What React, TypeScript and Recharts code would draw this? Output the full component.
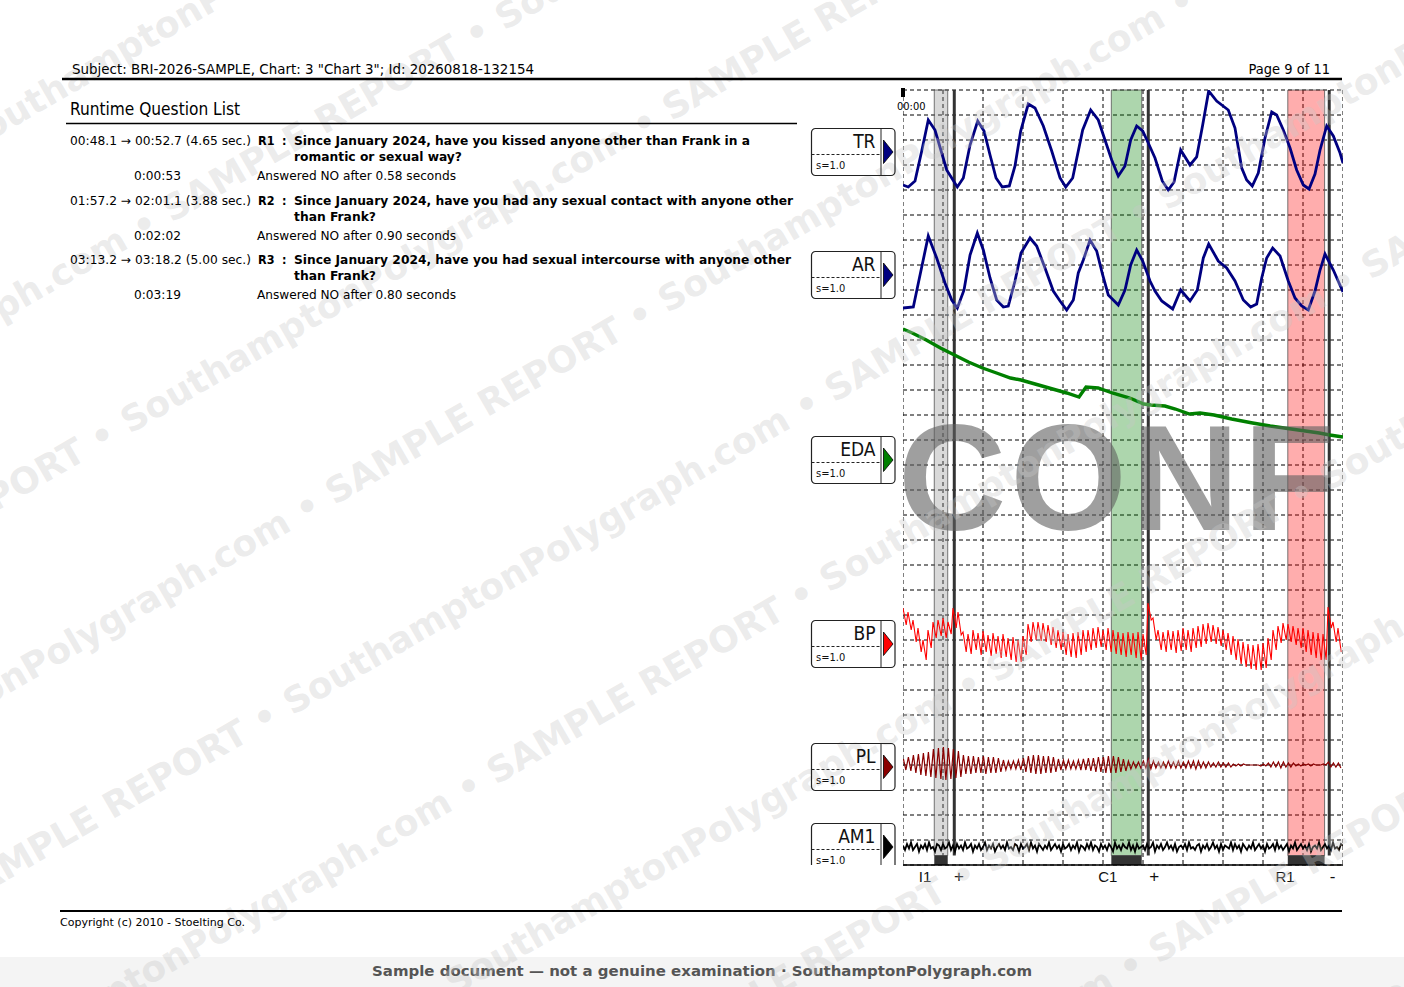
import React from 'react';
import { LineChart, Line, XAxis, YAxis, CartesianGrid, ReferenceArea, ReferenceLine } from 'recharts';

const FONT = '"DejaVu Sans Condensed", "DejaVu Sans", Verdana, sans-serif';
const ARIAL = '"Liberation Sans", Arial, sans-serif';

// ---------- page texts ----------
const HEADER_LEFT = 'Subject: BRI-2026-SAMPLE, Chart: 3 "Chart 3"; Id: 20260818-132154';
const HEADER_RIGHT = 'Page 9 of 11';
const LIST_TITLE = 'Runtime Question List';
const Q_TIME_TEXT = ['00:48.1 \u2192 00:52.7 (4.65 sec.)', '01:57.2 \u2192 02:01.1 (3.88 sec.)', '03:13.2 \u2192 03:18.2 (5.00 sec.)'];
const Q_ID = ['R1', 'R2', 'R3'];
const Q_TEXT_1 = [
  'Since January 2024, have you kissed anyone other than Frank in a',
  'Since January 2024, have you had any sexual contact with anyone other',
  'Since January 2024, have you had sexual intercourse with anyone other',
];
const Q_TEXT_2 = ['romantic or sexual way?', 'than Frank?', 'than Frank?'];
const Q_CLOCK = ['0:00:53', '0:02:02', '0:03:19'];
const Q_ANSWER = ['Answered NO after 0.58 seconds', 'Answered NO after 0.90 seconds', 'Answered NO after 0.80 seconds'];
const COPYRIGHT = 'Copyright (c) 2010 - Stoelting Co.';
const BANNER = 'Sample document \u2014 not a genuine examination \u00B7 SouthamptonPolygraph.com';
const WATERMARK = 'SAMPLE REPORT \u2022 SouthamptonPolygraph.com \u2022\u00A0';
const STAMP = 'CONFIDENTIAL';
const START_LABEL = '00:00';

// ---------- channels ----------
const CH_NAMES = ['TR', 'AR', 'EDA', 'BP', 'PL', 'AM1'];
const CH_SCALE = ['s=1.0', 's=1.0', 's=1.0', 's=1.0', 's=1.0', 's=1.0'];
const CH_COLORS = ['#000080', '#000080', '#008000', '#ff0000', '#8b0000', '#000000'];

// TR (time s, value)
const TR_T = [0, 0.66, 1.5, 2.34, 3.16, 4.0, 4.84, 5.46, 6.09, 6.79, 7.54, 8.38, 9.34, 10.13, 10.88, 11.63, 12.41, 13.29, 14.0, 14.71, 15.66, 16.5, 17.54, 18.59, 19.63, 20.34, 21.21, 22.46, 23.46, 24.41, 25.25, 26.09, 26.91, 27.75, 28.46, 29.21, 29.96, 30.66, 31.5, 32.41, 33.16, 33.88, 34.71, 35.88, 36.71, 37.46, 38.21, 39.21, 40.66, 41.5, 42.34, 42.96, 43.66, 44.41, 45.25, 46.09, 46.71, 47.54, 48.38, 49.21, 50.04, 50.75, 51.5, 52.13, 52.96, 53.79, 54.63, 55];
const TR_V = [5, 3, 9, 39, 70, 60, 37, 20, 12, 3, 12, 45, 69, 59, 35, 12, 3, 4, 24, 59, 86, 82, 64, 39, 12, 3, 12, 60, 80, 70, 50, 30, 14, 24, 50, 64, 59, 47, 32, 9, 0, 8, 40, 25, 33, 65, 99, 89, 80, 62, 22, 10, 4, 17, 52, 78, 75, 60, 42, 20, 5, 1, 16, 40, 64, 54, 37, 27];

// AR
const AR_T = [0, 1.29, 2.13, 3.16, 4.21, 5.25, 6.09, 6.79, 7.63, 8.38, 9.29, 10.04, 10.88, 11.71, 12.54, 13.16, 14.0, 14.75, 15.88, 16.71, 17.75, 18.79, 19.63, 20.46, 21.29, 21.91, 22.54, 23.38, 24.21, 24.96, 25.66, 26.91, 27.75, 28.46, 29.21, 29.96, 30.88, 31.5, 32.34, 33.71, 34.71, 35.88, 36.79, 37.54, 38.21, 39.41, 40.46, 41.5, 42.54, 43.46, 44.21, 44.84, 45.46, 46.21, 47.13, 48.16, 49.0, 49.84, 50.66, 51.5, 52.13, 52.75, 53.79, 55];
const AR_V = [7, 8, 40, 79, 57, 32, 15, 7, 25, 60, 82, 65, 37, 15, 8, 9, 34, 62, 77, 69, 47, 24, 14, 5, 15, 42, 55, 75, 64, 40, 20, 10, 25, 50, 65, 54, 34, 24, 14, 6, 25, 14, 25, 57, 71, 54, 47, 34, 15, 8, 11, 37, 57, 67, 59, 34, 17, 9, 5, 24, 45, 61, 45, 23];

// EDA
const EDA_T = [0, 1.16, 2.91, 4.68, 6.43, 8.18, 9.94, 11.69, 13.44, 14.75, 16.95, 18.7, 20.46, 22.0, 22.88, 24.4, 26.16, 28.35, 30.11, 30.99, 32.74, 34.05, 35.81, 37.13, 38.88, 41.08, 43.7, 45.9, 48.53, 50.29, 52.04, 53.35, 55];
const EDA_V = [111, 107, 100, 92, 85, 78, 72, 67, 62, 60, 55, 51, 47, 43, 53, 52, 47, 42, 36, 35, 34, 31, 26, 27, 25, 21, 17, 14, 11, 9, 7, 5, 3];

// BP per beat (systolic peak / diastolic trough)
const BEAT = 0.625;
const BP_SYS = [32, 28, 20, 12, 0, 10, 18, 20, 22, 18, 32, 28, 8, 6, 10, 7, 9, 5, 7, 4, 6, 2, 3, 0, 4, 16, 18, 18, 17, 15, 13, 10, 8, 6, 7, 8, 10, 10, 12, 13, 10, 12, 10, 8, 7, 8, 7, 8, 6, 37, 22, 10, 8, 10, 9, 10, 12, 10, 12, 14, 16, 17, 15, 13, 10, 7, 4, 1, -2, -4, -5, -4, -3, 2, 10, 14, 17, 16, 14, 12, 12, 10, 8, 7, 6, 33, 18, 12];
const BP_DIA = [15, 10, -2, -12, -20, -8, 2, 4, 2, 6, 12, 5, -12, -14, -10, -15, -12, -16, -14, -18, -17, -20, -22, -22, -15, -2, 0, -1, -2, -5, -8, -10, -15, -17, -18, -15, -12, -10, -8, -7, -10, -12, -14, -15, -17, -15, -18, -20, -15, 20, 0, -10, -12, -10, -13, -11, -10, -12, -8, -7, -4, -2, -4, -6, -10, -15, -20, -24, -27, -29, -30, -30, -28, -20, -10, -3, 0, -2, -5, -8, -12, -15, -18, -20, -20, 12, -2, -12];

// PL per beat (high / low)
const PL_HI = [6, 8, 10, 11, 12, 13, 16, 17, 18, 17, 16, 14, 10, 9, 9, 8, 9, 8, 8, 7, 5, 4, 4, 5, 7, 9, 10, 10, 9, 9, 8, 6, 5, 5, 4, 5, 6, 7, 7, 8, 8, 9, 9, 8, 6, 4, 3, 3, 4, 6, 4, 3, 3, 4, 3, 4, 3, 4, 4, 4, 3, 3, 2, 3, 2, 2, 1, 1, 1, 0, 0, 0, 1, 2, 3, 3, 3, 2, 2, 1, 1, 1, 1, 0, 1, 3, 2, 2];
const PL_LO = [-5, -6, -8, -10, -11, -12, -13, -14, -15, -14, -13, -12, -9, -9, -8, -8, -9, -8, -8, -7, -5, -4, -4, -5, -7, -8, -9, -9, -8, -8, -7, -5, -4, -4, -4, -5, -5, -6, -7, -7, -8, -8, -8, -7, -6, -4, -3, -3, -3, -4, -3, -3, -3, -3, -3, -3, -3, -3, -4, -3, -3, -2, -2, -2, -2, -2, -1, -1, 0, 0, 0, -1, -1, -2, -2, -3, -2, -2, -1, -1, 0, -1, 0, 0, 0, -2, -2, -3];

// AM1 samples every 0.25 s
const AM_STEP = 0.25;
const AM1 = [
  1, -2, 2, -1, 3, -2, 0, 2, -3, 1,
  -1, 2, -2, 3, -1, 0, -3, 2, 1, -2,
  2, -1, 0, 3, -2, 1, -3, 2, -1, 1,
  -2, 3, -1, 0, 2, -3, 1, -1, 2, -2,
  0, 3, -2, 1, -1, 2, -3, 0, 2, -1,
  1, -2, 3, -1, 0, -2, 2, 1, -3, 2,
  -1, 0, 2, -2, 3, -1, 1, -3, 2, 0,
  -2, 1, -1, 3, -2, 0, 2, -1, 1, -3,
  2, -1, 0, 2, -2, 1, -1, 3, -3, 1,
  0, -2, 2, -1, 3, -2, 1, 0, -3, 2,
  -1, 1, -2, 2, 0, -3, 3, -1, 1, -2,
  2, 0, -1, 3, -2, 1, -3, 2, -1, 0,
  1, -2, 2, -1, 0, 3, -3, 1, -1, 2,
  -2, 0, 3, -1, 1, -2, 2, -3, 0, 1,
  -1, 2, -2, 3, -1, 0, -2, 1, 2, -3,
  1, -1, 2, -2, 0, 3, -1, 1, -3, 2,
  -2, 1, 0, -1, 3, -2, 2, -1, 1, -3,
  2, 0, -2, 1, -1, 3, -2, 0, 2, -1,
  1, -3, 2, -1, 0, 2, -2, 3, -1, 1,
  -2, 0, 2, -3, 1, -1, 3, -2, 0, 2,
  -1, 1, -2, 2, -3, 0, 1, -1, 3, -2,
  0, 2, -1, 1, -2, 3, -1, 0, -2, 2, 1,
];

// ---------- events ----------
const EVENT_NAMES = ['I1', 'C1', 'R1'];
const EVENT_ON = [3.91, 26.04, 48.1];
const EVENT_OFF = [5.59, 29.84, 52.7];
const EVENT_FILL = ['#8a8a8a', '#008000', '#ff0000'];
const EVENT_NAME_T = [2.75, 25.6, 47.75];
const ANSWER_T = [6.41, 30.66, 53.28];
const ANSWER_MARK = ['+', '+', '-'];
const ANSWER_MARK_T = [7.0, 31.4, 53.7];

// ---------- layout ----------
const PLOT_LEFT = 903;
const PLOT_TOP = 90;
const PLOT_W = 440;
const PLOT_H = 775;
const PLOT_BOTTOM = PLOT_TOP + PLOT_H;
const T_MAX = 55;
const ROWS = 31;
const BAR_H = 0.38;
const CH_BASE = [190, 315, 440, 640, 765, 847];
const CH_PX_PER_UNIT = [1, 1, 1, 1, 1, 1.5];
const CH_BOX_TOP = [128, 251, 436, 620, 743, 823];
const yDomain = (base: number, k: number): [number, number] => [(base - PLOT_BOTTOM) / k, (base - PLOT_TOP) / k];

const SEC_TICKS = Array.from({ length: T_MAX + 1 }, (_, i) => i);
const GRID_X = Array.from({ length: T_MAX / 5 + 1 }, (_, i) => i * 5);
const GRID_Y = Array.from({ length: ROWS + 1 }, (_, i) => i);

const trData = TR_T.map((t, i) => ({ t, v: TR_V[i] }));
const arData = AR_T.map((t, i) => ({ t, v: AR_V[i] }));
const edaData = EDA_T.map((t, i) => ({ t, v: EDA_V[i] }));
const bpData = BP_SYS.flatMap((s, i) => [{ t: i * BEAT, v: s }, { t: i * BEAT + 0.4, v: BP_DIA[i] }]);
const plData = PL_HI.flatMap((h, i) => [{ t: i * BEAT + 0.05, v: h }, { t: i * BEAT + 0.36, v: PL_LO[i] }]);
const amData = AM1.map((v, i) => ({ t: i * AM_STEP, v }));

const bottomLabels: Record<string, string> = {};
EVENT_NAME_T.forEach((t, i) => { bottomLabels[String(t)] = EVENT_NAMES[i]; });
ANSWER_MARK_T.forEach((t, i) => { bottomLabels[String(t)] = ANSWER_MARK[i]; });
const BOTTOM_TICKS = [...EVENT_NAME_T, ...ANSWER_MARK_T].sort((a, b) => a - b);

const SERIES = [
  { id: 'tr', data: trData, w: 2.8 },
  { id: 'ar', data: arData, w: 2.8 },
  { id: 'eda', data: edaData, w: 3.4 },
  { id: 'bp', data: bpData, w: 1.1 },
  { id: 'pl', data: plData, w: 1.2 },
  { id: 'am', data: amData, w: 1.8 },
];

function EventTick(props: any) {
  const { x, y, payload } = props;
  const label = bottomLabels[String(payload && payload.value)] || '';
  const sign = label === '+' || label === '-';
  return (
    <text x={x} y={y + 17} textAnchor="middle" fontFamily={ARIAL} fontSize={sign ? 17 : 15} fill="#111">{label}</text>
  );
}

function Chart() {
  return (
    <div style={{ position: 'absolute', left: PLOT_LEFT, top: PLOT_TOP - 2, width: PLOT_W, height: PLOT_H + 32 }}>
      <LineChart width={PLOT_W} height={PLOT_H + 32} margin={{ top: 2, right: 0, bottom: 0, left: 0 }}>
        <XAxis xAxisId="time" orientation="top" type="number" dataKey="t" domain={[0, T_MAX]} ticks={SEC_TICKS}
          interval={0} height={0} mirror tickSize={4} tickFormatter={() => ''} allowDataOverflow
          axisLine={{ stroke: '#000', strokeWidth: 1.5 }} tickLine={{ stroke: '#000', strokeWidth: 1 }} />
        <XAxis xAxisId="grid" hide type="number" dataKey="t" domain={[0, T_MAX]} ticks={GRID_X} interval={0} allowDataOverflow />
        <XAxis xAxisId="events" orientation="bottom" type="number" dataKey="t" domain={[0, T_MAX]} ticks={BOTTOM_TICKS}
          interval={0} height={30} tickLine={false} tickSize={0} tickMargin={0} allowDataOverflow
          axisLine={{ stroke: '#000', strokeWidth: 1.5 }} tick={<EventTick />} />
        <YAxis yAxisId="grid" hide type="number" domain={[0, ROWS]} ticks={GRID_Y} interval={0} allowDataOverflow />
        {SERIES.map((s, i) => (
          <YAxis key={s.id} yAxisId={s.id} hide type="number" domain={yDomain(CH_BASE[i], CH_PX_PER_UNIT[i])} allowDataOverflow />
        ))}
        <CartesianGrid xAxisId="grid" yAxisId="grid" stroke="#000" strokeDasharray="4 3" strokeWidth={1} />
        {EVENT_ON.map((on, i) => (
          <ReferenceArea key={'s' + i} xAxisId="time" yAxisId="grid" x1={on} x2={EVENT_OFF[i]} y1={BAR_H} y2={ROWS}
            fill={EVENT_FILL[i]} fillOpacity={0.32} stroke="#555" strokeWidth={1} strokeOpacity={0.8} />
        ))}
        {EVENT_ON.map((on, i) => (
          <ReferenceArea key={'b' + i} xAxisId="time" yAxisId="grid" x1={on} x2={EVENT_OFF[i]} y1={0} y2={BAR_H}
            fill="#333" fillOpacity={1} stroke="none" />
        ))}
        {ANSWER_T.map((t, i) => (
          <ReferenceLine key={'a' + i} xAxisId="time" yAxisId="grid"
            segment={[{ x: t, y: BAR_H }, { x: t, y: ROWS }]} stroke="#333" strokeWidth={3} />
        ))}
        {SERIES.map((s, i) => (
          <Line key={s.id} xAxisId="time" yAxisId={s.id} data={s.data} dataKey="v" type="linear"
            stroke={CH_COLORS[i]} strokeWidth={s.w} dot={false} activeDot={false} isAnimationActive={false} />
        ))}
      </LineChart>
    </div>
  );
}

function Stamp() {
  return (
    <div style={{ position: 'absolute', left: PLOT_LEFT, top: PLOT_TOP, width: PLOT_W, height: PLOT_H, overflow: 'hidden', pointerEvents: 'none' }}>
      <svg width={PLOT_W} height={PLOT_H}>
        <text x={-5} y={440} fontFamily={ARIAL} fontWeight="bold" fontSize={150} letterSpacing={4} fill="rgba(95,95,95,0.6)">{STAMP}</text>
      </svg>
    </div>
  );
}

const WM_ROWS = [-45, 117, 279, 441, 605, 766, 928, 1090, 1252, 1414, 1576];
function Watermark() {
  return (
    <svg width={1404} height={987} style={{ position: 'absolute', left: 0, top: 0, pointerEvents: 'none' }}>
      <g transform="rotate(-30)" fontFamily='"DejaVu Sans", sans-serif' fontWeight="bold" fontSize={36} fill="rgba(200,200,200,0.36)">
        {WM_ROWS.map((ly, k) => {
          const phase = k % 2 === 1 ? -489 : 37;
          return (
            <g key={k}>
              <text x={phase} y={ly}>{WATERMARK.repeat(3)}</text>
              <text x={phase} y={ly} textAnchor="end">{WATERMARK.repeat(2)}</text>
            </g>
          );
        })}
      </g>
    </svg>
  );
}

function ChannelBox({ i }: { i: number }) {
  const top = CH_BOX_TOP[i];
  return (
    <g transform={`translate(811.5, ${top + 0.5})`}>
      <rect x={0} y={0} width={83.5} height={47} rx={4} ry={4} fill="none" stroke="#222" strokeWidth={1.2} />
      <line x1={0} x2={69.5} y1={26} y2={26} stroke="#222" strokeWidth={1} strokeDasharray="3 2" />
      <line x1={69.5} x2={69.5} y1={0} y2={47} stroke="#222" strokeWidth={1} />
      <text x={64} y={19} textAnchor="end" fontFamily={FONT} fontSize={19} fill="#111">{CH_NAMES[i]}</text>
      <text x={4.5} y={40} fontFamily={FONT} fontSize={11} fill="#111">{CH_SCALE[i]}</text>
      <polygon points="72,11.5 81.5,23.5 72,35" fill={CH_COLORS[i]} stroke="#000" strokeWidth={0.8} />
    </g>
  );
}

function Page() {
  return (
    <svg width={1404} height={987} style={{ position: 'absolute', left: 0, top: 0, pointerEvents: 'none' }}>
      <defs>
        <clipPath id="boxclip"><rect x={800} y={85} width={102} height={PLOT_BOTTOM - 85} /></clipPath>
      </defs>
      <text x={72} y={74} fontFamily={FONT} fontSize={14} fill="#000" textLength={462} lengthAdjust="spacingAndGlyphs">{HEADER_LEFT}</text>
      <text x={1330} y={74} fontFamily={FONT} fontSize={14.5} fill="#000" textAnchor="end">{HEADER_RIGHT}</text>
      <line x1={62} x2={1342} y1={79} y2={79} stroke="#000" strokeWidth={2.5} />
      <text x={70} y={115} fontFamily={FONT} fontSize={17} fill="#000" textLength={170} lengthAdjust="spacingAndGlyphs">{LIST_TITLE}</text>
      <line x1={66} x2={797} y1={123.5} y2={123.5} stroke="#000" strokeWidth={1.5} />
      {Q_ID.map((id, i) => {
        const b = 145 + 59.5 * i;
        return (
          <g key={id} fontFamily={FONT} fontSize={12.5} fill="#000">
            <text x={70} y={b} textLength={181} lengthAdjust="spacingAndGlyphs">{Q_TIME_TEXT[i]}</text>
            <text x={258} y={b} fontWeight="bold">{id}</text>
            <text x={282} y={b} fontWeight="bold">:</text>
            <text x={294} y={b} fontWeight="bold" textLength={[456, 499, 497][i]} lengthAdjust="spacingAndGlyphs">{Q_TEXT_1[i]}</text>
            <text x={294} y={b + 16} fontWeight="bold" textLength={[168, 82, 82][i]} lengthAdjust="spacingAndGlyphs">{Q_TEXT_2[i]}</text>
            <text x={134} y={b + 35} textLength={47} lengthAdjust="spacingAndGlyphs">{Q_CLOCK[i]}</text>
            <text x={257} y={b + 35} textLength={199} lengthAdjust="spacingAndGlyphs">{Q_ANSWER[i]}</text>
          </g>
        );
      })}
      <g clipPath="url(#boxclip)">
        {CH_NAMES.map((_, i) => <ChannelBox key={i} i={i} />)}
      </g>
      <rect x={901} y={88} width={4} height={9} fill="#000" />
      <text x={897} y={110} fontFamily={FONT} fontSize={11} fill="#000">{START_LABEL}</text>
      <line x1={60} x2={1342} y1={911} y2={911} stroke="#000" strokeWidth={2} />
      <text x={60} y={926} fontFamily={FONT} fontSize={11} fill="#000" textLength={185} lengthAdjust="spacingAndGlyphs">{COPYRIGHT}</text>
    </svg>
  );
}

export default function App() {
  return (
    <div style={{ position: 'absolute', left: 0, top: 0, width: 1404, height: 987, overflow: 'hidden', background: '#fff' }}>
      <div style={{ position: 'absolute', left: 0, top: 957, width: 1404, height: 30, background: '#f4f4f4' }} />
      <div style={{ position: 'absolute', left: 0, top: 957, width: 1404, height: 30 }}>
        <svg width={1404} height={30}>
          <text x={702} y={19} textAnchor="middle" fontFamily='"DejaVu Sans", sans-serif' fontWeight="bold" fontSize={13.5} fill="#555" textLength={660} lengthAdjust="spacingAndGlyphs">{BANNER}</text>
        </svg>
      </div>
      <Chart />
      <Stamp />
      <Watermark />
      <Page />
    </div>
  );
}
